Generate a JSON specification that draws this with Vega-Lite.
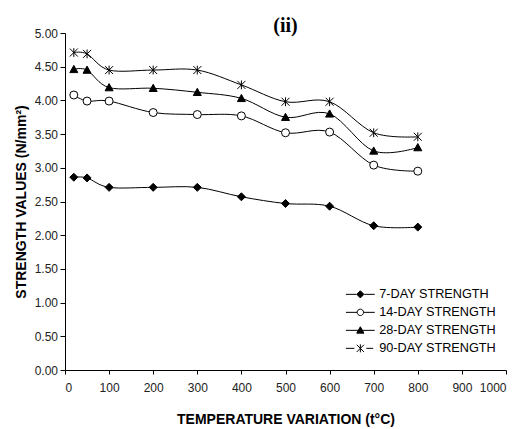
{
  "$schema": "https://vega.github.io/schema/vega-lite/v6.json",
  "width": 441,
  "height": 337,
  "autosize": {"type": "none"},
  "padding": {"left": 65, "top": 33, "right": 10, "bottom": 59},
  "background": "white",
  "title": {"text": "(ii)", "font": "Liberation Serif", "fontSize": 20, "fontWeight": "bold", "anchor": "middle", "offset": -9, "color": "black"},
  "config": {
    "view": {"stroke": null},
    "axis": {
      "grid": false,
      "domainColor": "black",
      "tickColor": "black",
      "labelColor": "#222222",
      "labelFont": "Liberation Sans",
      "labelFontSize": 12,
      "titleFont": "Liberation Sans",
      "titleFontSize": 14,
      "titleFontWeight": "bold",
      "titleColor": "black"
    },
    "legend": {
      "labelFont": "Liberation Sans",
      "labelFontSize": 12.7,
      "labelColor": "black"
    }
  },
  "data": {
    "values": [
      {"t": 20, "s": 2.86, "series": "7-DAY STRENGTH"},
      {"t": 50, "s": 2.85, "series": "7-DAY STRENGTH"},
      {"t": 100, "s": 2.71, "series": "7-DAY STRENGTH"},
      {"t": 200, "s": 2.71, "series": "7-DAY STRENGTH"},
      {"t": 300, "s": 2.71, "series": "7-DAY STRENGTH"},
      {"t": 400, "s": 2.57, "series": "7-DAY STRENGTH"},
      {"t": 500, "s": 2.47, "series": "7-DAY STRENGTH"},
      {"t": 600, "s": 2.43, "series": "7-DAY STRENGTH"},
      {"t": 700, "s": 2.14, "series": "7-DAY STRENGTH"},
      {"t": 800, "s": 2.12, "series": "7-DAY STRENGTH"},
      {"t": 20, "s": 4.08, "series": "14-DAY STRENGTH"},
      {"t": 50, "s": 3.99, "series": "14-DAY STRENGTH"},
      {"t": 100, "s": 3.99, "series": "14-DAY STRENGTH"},
      {"t": 200, "s": 3.82, "series": "14-DAY STRENGTH"},
      {"t": 300, "s": 3.79, "series": "14-DAY STRENGTH"},
      {"t": 400, "s": 3.77, "series": "14-DAY STRENGTH"},
      {"t": 500, "s": 3.52, "series": "14-DAY STRENGTH"},
      {"t": 600, "s": 3.53, "series": "14-DAY STRENGTH"},
      {"t": 700, "s": 3.04, "series": "14-DAY STRENGTH"},
      {"t": 800, "s": 2.95, "series": "14-DAY STRENGTH"},
      {"t": 20, "s": 4.46, "series": "28-DAY STRENGTH"},
      {"t": 50, "s": 4.45, "series": "28-DAY STRENGTH"},
      {"t": 100, "s": 4.19, "series": "28-DAY STRENGTH"},
      {"t": 200, "s": 4.18, "series": "28-DAY STRENGTH"},
      {"t": 300, "s": 4.12, "series": "28-DAY STRENGTH"},
      {"t": 400, "s": 4.03, "series": "28-DAY STRENGTH"},
      {"t": 500, "s": 3.75, "series": "28-DAY STRENGTH"},
      {"t": 600, "s": 3.80, "series": "28-DAY STRENGTH"},
      {"t": 700, "s": 3.25, "series": "28-DAY STRENGTH"},
      {"t": 800, "s": 3.30, "series": "28-DAY STRENGTH"},
      {"t": 20, "s": 4.71, "series": "90-DAY STRENGTH"},
      {"t": 50, "s": 4.69, "series": "90-DAY STRENGTH"},
      {"t": 100, "s": 4.45, "series": "90-DAY STRENGTH"},
      {"t": 200, "s": 4.45, "series": "90-DAY STRENGTH"},
      {"t": 300, "s": 4.45, "series": "90-DAY STRENGTH"},
      {"t": 400, "s": 4.23, "series": "90-DAY STRENGTH"},
      {"t": 500, "s": 3.98, "series": "90-DAY STRENGTH"},
      {"t": 600, "s": 3.98, "series": "90-DAY STRENGTH"},
      {"t": 700, "s": 3.52, "series": "90-DAY STRENGTH"},
      {"t": 800, "s": 3.46, "series": "90-DAY STRENGTH"}
    ]
  },
  "encoding": {
    "x": {
      "field": "t", "type": "quantitative",
      "scale": {"domain": [0, 1000], "nice": false},
      "axis": {"values": [0, 100, 200, 300, 400, 500, 600, 700, 800, 900, 1000], "format": "d", "title": "TEMPERATURE VARIATION (t°C)", "tickSize": 4, "labelPadding": 8, "titlePadding": 19}
    },
    "y": {
      "field": "s", "type": "quantitative",
      "scale": {"domain": [0, 5], "nice": false},
      "axis": {"values": [0, 0.5, 1, 1.5, 2, 2.5, 3, 3.5, 4, 4.5, 5], "format": ".2f", "title": "STRENGTH VALUES (N/mm²)", "tickSize": 5, "labelPadding": 2.5, "titlePadding": 6}
    }
  },
  "layer": [
    {
      "mark": {"type": "line", "interpolate": "cardinal", "color": "black", "strokeWidth": 1},
      "encoding": {"detail": {"field": "series"}}
    },
    {
      "mark": {"type": "point", "stroke": "black", "strokeWidth": 1, "size": 64, "opacity": 1},
      "encoding": {
        "shape": {
          "field": "series", "type": "nominal",
          "scale": {
            "domain": ["7-DAY STRENGTH", "14-DAY STRENGTH", "28-DAY STRENGTH", "90-DAY STRENGTH"],
            "range": ["M0,-1L1,0L0,1L-1,0Z", "circle", "M0,-1L1,0.8L-1,0.8Z", "M-1,-1L1,1M-1,1L1,-1M0,-1.1L0,1.1"]
          },
          "legend": null
        },
        "fill": {
          "field": "series", "type": "nominal",
          "sort": ["7-DAY STRENGTH", "14-DAY STRENGTH", "28-DAY STRENGTH", "90-DAY STRENGTH"],
          "scale": {
            "range": ["black", "white", "black", "black"]
          },
          "legend": {
            "title": null,
            "orient": "none",
            "legendX": 289,
            "legendY": 255,
            "symbolSize": 64,
            "symbolStrokeColor": "black",
            "symbolStrokeWidth": 1,
            "symbolOpacity": 1,
            "rowPadding": 4,
            "labelOffset": 12.5,
            "symbolType": {"expr": "datum.value === '7-DAY STRENGTH' ? 'M-3.6,0L-1,0M1,0L3.6,0M0,-0.9L0.9,0L0,0.9L-0.9,0Z' : datum.value === '14-DAY STRENGTH' ? 'M-3.6,0L-0.8,0M0.8,0L3.6,0M-0.8,0A0.8,0.8 0 1,0 0.8,0A0.8,0.8 0 1,0 -0.8,0Z' : datum.value === '28-DAY STRENGTH' ? 'M-3.6,0L3.6,0M0,-0.9L0.9,0.7L-0.9,0.7Z' : 'M-3.6,0L-1.5,0M1.5,0L3.2,0M-0.9,-0.9L0.9,0.9M-0.9,0.9L0.9,-0.9M0,-1L0,1'"}
          }
        }
      }
    }
  ]
}
